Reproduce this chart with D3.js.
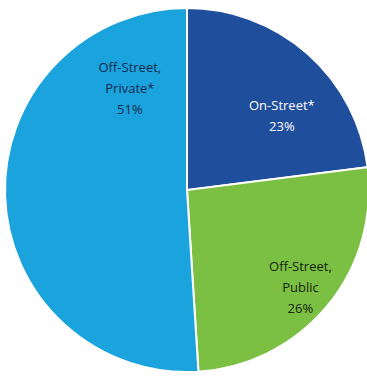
<!DOCTYPE html>
<html>
<head>
<meta charset="utf-8">
<script src="https://cdn.jsdelivr.net/npm/d3@7"></script>
<style>
  body { margin: 0; background: #fff; }
  svg { display: block; }
</style>
</head>
<body>
<script>
// slices, clockwise from 12 o'clock
var categories = ["On-Street*", "Off-Street, Public", "Off-Street, Private*"];
var values = [23, 26, 51];
var labelLines = [["On-Street*", "23%"], ["Off-Street,", "Public", "26%"], ["Off-Street,", "Private*", "51%"]];
var colors = ["#1f4e9c", "#7bbf43", "#1ba3dd"];
var textColors = ["#ffffff", "#14230c", "#16294d"];

var width = 367, height = 377;
var cx = 187, cy = 190, r = 182;

var svg = d3.select("body").append("svg")
  .attr("width", width)
  .attr("height", height);

var g = svg.append("g").attr("transform", `translate(${cx}, ${cy})`);

var pie = d3.pie().sort(null).value(function(d){ return d; });
var arcs = pie(values);

var arc = d3.arc().innerRadius(0).outerRadius(r);

g.selectAll(".slice")
  .data(arcs)
  .enter()
  .append("path")
  .attr("class", "slice")
  .attr("d", arc)
  .style("fill", function(d, i){ return colors[i]; })
  .style("stroke", "#ffffff")
  .style("stroke-width", 2);

// where the label sits inside its slice: share of radius, share along the slice angle
var labelRad = [0.66, 0.82, 0.64];
var labelFrac = [0.63, 0.51, 0.84];

var lineH = 21;

var labels = g.selectAll(".lbl")
  .data(arcs)
  .enter()
  .append("text")
  .attr("class", "lbl")
  .attr("transform", function(d, i){
    var a = d.startAngle + (d.endAngle - d.startAngle) * labelFrac[i];
    var rr = r * labelRad[i];
    return `translate(${rr * Math.sin(a)}, ${-rr * Math.cos(a)})`;
  })
  .attr("text-anchor", "middle")
  .style("font-family", "'Open Sans', sans-serif")
  .style("font-size", "13px")
  .style("fill", function(d, i){ return textColors[i]; });

labels.each(function(d, i){
  var lines = labelLines[i];
  var t = d3.select(this);
  var y0 = -(lines.length - 1) * lineH / 2;
  lines.forEach(function(s, k){
    t.append("tspan")
      .attr("x", 0)
      .attr("y", y0 + k * lineH)
      .attr("dy", "0.35em")
      .text(s);
  });
});
</script>
</body>
</html>
